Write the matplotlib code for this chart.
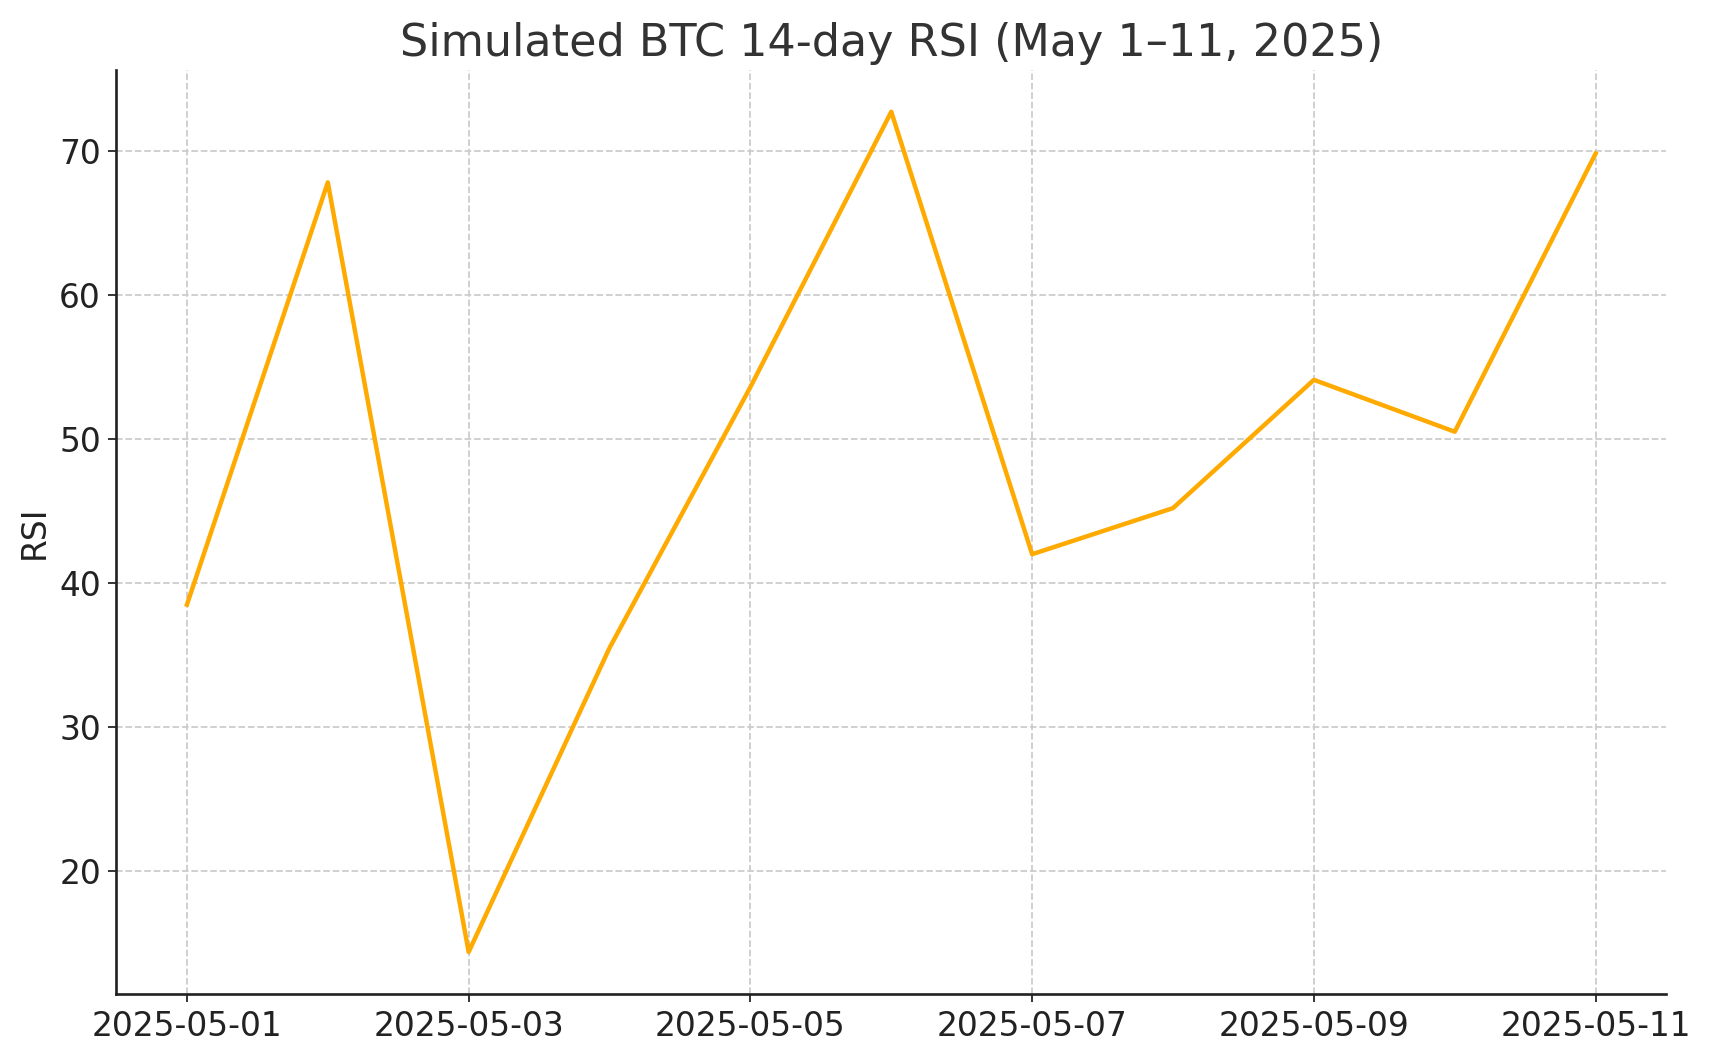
import numpy as np
import pandas as pd
import matplotlib
matplotlib.use('Agg')
import matplotlib.pyplot as plt
import matplotlib.dates as mdates

dates = pd.date_range('2025-05-01', '2025-05-11', freq='D')
rsi = [38.5, 67.8, 14.4, 35.5, 53.6, 72.7, 42.0, 45.2, 54.1, 50.5, 69.8]

fig = plt.figure(figsize=(1713 / 160, 1057 / 160), dpi=160)
ax = fig.add_axes([0.068, 0.0596, 0.9046, 0.8744])
ax.plot(dates, rsi, color='#FFAA00', linewidth=2.0)

ax.set_title('Simulated BTC 14-day RSI (May 1–11, 2025)', fontsize=20, color='#333333')
ax.set_ylabel('RSI', fontsize=14.8, color='#222222')
ax.xaxis.set_major_locator(mdates.DayLocator(interval=2))
ax.xaxis.set_major_formatter(mdates.DateFormatter('%Y-%m-%d'))
ax.tick_params(labelsize=14.8, colors='#222222')
ax.grid(True, linestyle='--', color='#cccccc', linewidth=0.8)
ax.spines['top'].set_visible(False)
ax.spines['right'].set_visible(False)
for s in ['left', 'bottom']:
    ax.spines[s].set_linewidth(1.2)
    ax.spines[s].set_color('#222222')

fig.savefig('out.png', dpi=160)
